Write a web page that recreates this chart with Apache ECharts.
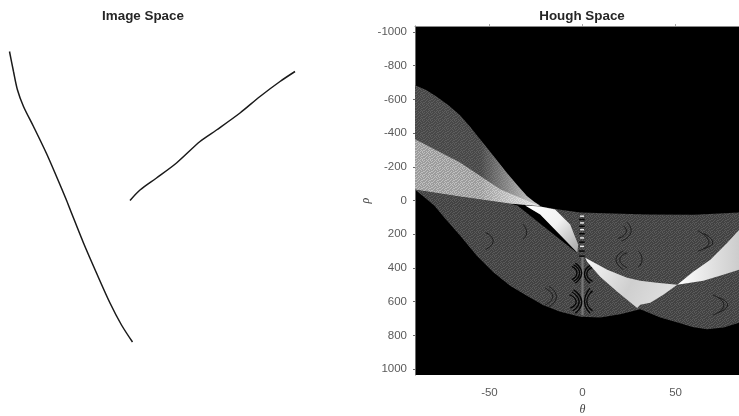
<!DOCTYPE html>
<html><head><meta charset="utf-8">
<style>html,body{margin:0;padding:0;background:#fff}#c{width:739px;height:416px}</style>
<script src="https://cdn.jsdelivr.net/npm/echarts@6/dist/echarts.min.js"></script>
</head><body><div id="c"></div>
<script>
// Image-space strokes [x, y]
const strokeLeft = [[19,51],[27,91],[35,128],[47,161],[67,201],[93,255],[113,301],[132,346],[143,374],[167,434],[193,494],[220,554],[243,598],[265,632]];
const strokeRight = [[260,349],[280,328],[313,304],[353,274],[400,231],[433,208],[480,174],[520,141],[560,111],[590,91]];
// Hough-space regions [theta, rho]
const bandUpper = [[-90,-684],[-84,-655],[-78.3,-615],[-72,-565],[-65.8,-505],[-60.4,-438],[-55,-363],[-47.8,-264],[-40.7,-165],[-35,-90],[-29.9,-26],[-26,8],[-22.7,30],[-39,18],[-65.8,-24],[-90,-65]];
const bandUpperBright = [[-90,-363],[-65.8,-226],[-44,-65],[-22.7,34],[-39,18],[-65.8,-24],[-90,-65]];
const tailGlow = [[-55,-363],[-47.8,-264],[-40.7,-165],[-35,-90],[-29.9,-26],[-26,8],[-22.7,32],[-39,18],[-55,-8]];
const bandLower = [[-90,-65],[-65.8,-24],[-39,18],[-35,30],[-3.9,303],[-2.8,309],[-22.7,83],[-30.8,30],[-22.7,36],[-13.6,52],[-1.2,71],[34.8,83],[60,85],[84,71],[90,65],[90,700],[84.2,724],[75.8,754],[66.9,763],[59,750],[52.5,728],[41.8,694],[31,645],[20.3,674],[9.5,694],[-1.2,690],[-12,660],[-21,621],[-29.9,565],[-38.9,506],[-47.9,426],[-56.8,327],[-65.8,208],[-72.9,119],[-79.7,30]];
const fanCentre = [[-30.8,30],[-22.7,36],[-14.7,54],[-6.6,143],[-2.3,262],[-2.8,309],[-22.7,83]];
const fanLower = [[1.5,339],[13.3,410],[24,458],[31,476],[40,488],[50.9,500],[43.4,559],[36.4,607],[31,619],[29.4,637],[18.7,541],[9.5,452],[2.5,363]];
const fanRight = [[50.9,500],[59.5,422],[68.7,351],[77.8,250],[84.2,173],[90,100],[90,380],[84.2,411],[75.6,440],[64.9,476]];
const fringes = [
 [[-3.9,371],[-0.4,430],[-3.9,490]],[[-4.8,381],[-1.6,430],[-4.8,480]],[[-5.7,391],[-3,430],[-5.7,470]],
 [[4.1,385],[1.07,436],[4.1,490]],[[5.4,395],[2.3,436],[5.4,480]],
 [[-4.8,530],[-0.4,599],[-3.9,668]],[[-5.7,543],[-1.8,599],[-5.3,654]],[[-7,559],[-3.4,599],[-6.6,639]],
 [[4.1,520],[1.07,599],[4.1,668]],[[5.4,536],[2.3,599],[5.4,654]]
];
const rings = [
 [[24,130],[26,190],[21,240]],[[22,150],[23.5,190],[19,225]],[[22,300],[18,350],[22,410]],[[24,310],[20,350],[24,400]],
 [[30,300],[32,350],[30,395]],[[62,180],[68,250],[62,300]],[[65,195],[70,250],[65,285]],[[70,560],[76,620],[70,680]],[[73,575],[78,620],[73,665]],
 [[-52,190],[-48,240],[-52,290]],[[-18,510],[-14,570],[-18,630]],[[-20,520],[-16,570],[-20,620]],[[-32,140],[-30,190],[-32,230]]
];
const zipperDark = [[[-1.8,113],[1.2,113]],[[-1.8,153],[1.2,153]],[[-1.8,197],[1.2,197]],[[-1.8,247],[1.2,247]],[[-1.8,300],[1.2,300]],[[-1.8,330],[1.2,330]]];
const zipperLight = [[[-1.3,93],[0.8,93]],[[-1.3,133],[0.8,133]],[[-1.3,173],[0.8,173]],[[-1.3,222],[0.8,222]],[[-1.3,272],[0.8,272]]];
const centreSeam = [[-0.6,335],[0.6,335],[0.6,680],[-0.6,680]];
const rhoTicks = [-1000,-800,-600,-400,-200,0,200,400,600,800,1000];
const thetaTicks = [-50,0,50];

const noise = ['10010010','00101001','01000100','10010001','00100110','01001000','10000101','00101010'];
function pattern(a,b){
  const c=document.createElement('canvas');c.width=8;c.height=8;
  const g=c.getContext('2d');g.fillStyle=a;g.fillRect(0,0,8,8);g.fillStyle=b;
  noise.forEach((r,y)=>[...r].forEach((v,x)=>{if(v==='1')g.fillRect(x,y,1,1);}));
  return {image:c,repeat:'repeat'};
}
function region(points,fill){
  return {type:'custom',coordinateSystem:'cartesian2d',xAxisIndex:1,yAxisIndex:1,clip:true,silent:true,
    data:[points[0]],
    renderItem:(p,api)=>({type:'polygon',shape:{points:points.map(q=>api.coord(q))},style:{fill:fill}})};
}
function curves(list,color,width,smooth){
  return {type:'custom',coordinateSystem:'cartesian2d',xAxisIndex:1,yAxisIndex:1,clip:true,silent:true,
    data:list.map(l=>l[0]),
    renderItem:(p,api)=>({type:'polyline',shape:{points:list[p.dataIndex].map(q=>api.coord(q)),smooth:smooth},style:{stroke:color,fill:null,lineWidth:width}})};
}
const grad=(x2,y2,stops)=>new echarts.graphic.LinearGradient(0,0,x2,y2,stops.map((c,i)=>({offset:i/(stops.length-1),color:c})));
const stroke=d=>({type:'line',xAxisIndex:0,yAxisIndex:0,data:d,showSymbol:false,smooth:0.3,silent:true,lineStyle:{color:'#1a1a1a',width:1.5}});
const tick='#6a6a6a';
const titleStyle={fontFamily:'Liberation Sans',fontSize:13.4,fontWeight:'bold',color:'#262626'};
const chart=echarts.init(document.getElementById('c'),null,{renderer:'canvas'});
chart.setOption({
  animation:false,backgroundColor:'#fff',
  title:[
    {text:'Image Space',left:143,top:10,padding:0,textAlign:'center',textStyle:titleStyle},
    {text:'Hough Space',left:582,top:10,padding:0,textAlign:'center',textStyle:titleStyle}
  ],
  grid:[
    {left:0,top:26,width:300,height:349,show:false,outerBoundsMode:'none'},
    {left:415,top:26,width:335,height:349,show:true,backgroundColor:'#000',borderWidth:0,outerBoundsMode:'none'}
  ],
  xAxis:[
    {gridIndex:0,type:'value',min:0,max:600,show:false},
    {gridIndex:1,type:'value',min:-90,max:90,position:'bottom',name:'θ',nameLocation:'middle',nameGap:28,
      nameTextStyle:{fontFamily:'Liberation Serif',fontStyle:'italic',fontSize:12,color:'#444'},
      axisLine:{show:false},splitLine:{show:false},axisTick:{show:false},
      axisLabel:{customValues:thetaTicks,margin:12,fontFamily:'Liberation Sans',fontSize:11.5,color:'#5a5a5a'}},
    {gridIndex:1,type:'value',min:-90,max:90,position:'top',
      axisLine:{show:true,onZero:false,lineStyle:{color:'#8a8a8a',width:1}},splitLine:{show:false},
      axisTick:{show:true,inside:false,length:2,customValues:thetaTicks,lineStyle:{color:'#aaa'}},axisLabel:{show:false}}
  ],
  yAxis:[
    {gridIndex:0,type:'value',min:0,max:698,inverse:true,show:false},
    {gridIndex:1,type:'value',min:-1035,max:1035,inverse:true,name:'ρ',nameLocation:'middle',nameGap:43,nameRotate:90,
      nameTextStyle:{fontFamily:'Liberation Serif',fontStyle:'italic',fontSize:12,color:'#444'},
      axisLine:{show:true,onZero:false,lineStyle:{color:tick,width:1}},splitLine:{show:false},
      axisTick:{show:true,length:2,customValues:rhoTicks,lineStyle:{color:tick}},
      axisLabel:{customValues:rhoTicks,margin:8,formatter:v=>String(v),fontFamily:'Liberation Sans',fontSize:11.5,color:'#5a5a5a'}}
  ],
  series:[
    stroke(strokeLeft),stroke(strokeRight),
    region(bandUpper,pattern('#484848','#5e5e5e')),
    region(bandLower,pattern('#424242','#5a5a5a')),
    region(bandUpperBright,pattern('#9c9c9c','#c0c0c0')),
    region(tailGlow,grad(1,0,['rgba(255,255,255,0)','rgba(255,255,255,0.75)'])),
    region(centreSeam,'#777777'),
    curves(rings,'#1c1c1c',1,0.6),
    curves(fringes,'#050505',1.3,0.6),
    region(fanCentre,grad(1,1,['#ffffff','#f2f2f2','#a6a6a6'])),
    region(fanLower,grad(1,1,['#f8f8f8','#cfcfcf','#e4e4e4'])),
    region(fanRight,grad(1,0,['#ffffff','#e0e0e0','#c4c4c4'])),
    curves(zipperDark,'#050505',1.4,0),
    curves(zipperLight,'#f0f0f0',1.4,0)
  ]
});
</script></body></html>
